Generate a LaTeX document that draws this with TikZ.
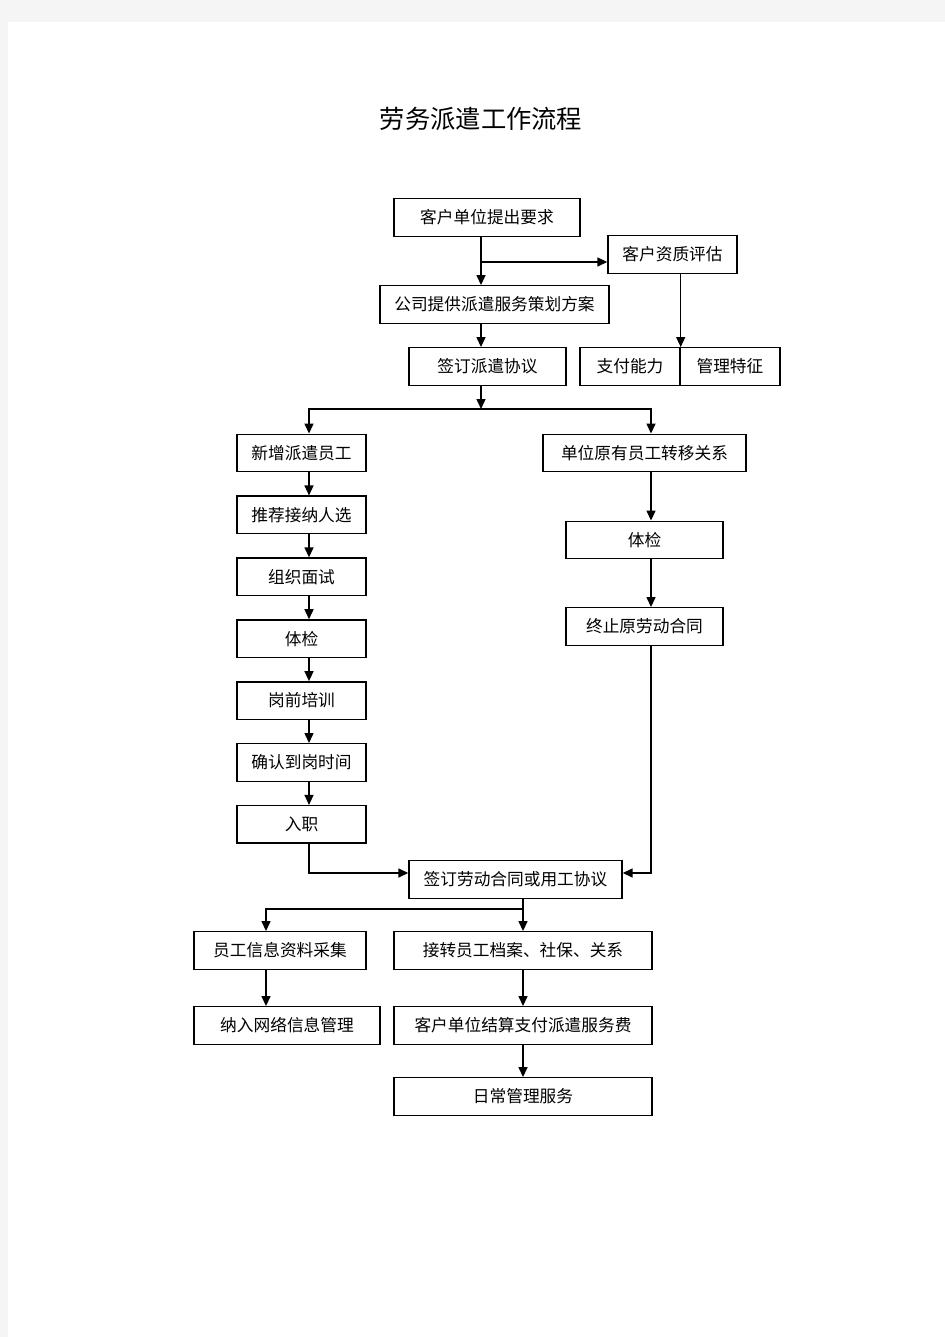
\documentclass[tikz,border=0pt]{standalone}
\usepackage{fontspec}
\newfontfamily\cjk{Noto Sans CJK SC}
\usetikzlibrary{positioning,arrows.meta}

\begin{document}
\begin{tikzpicture}[x=0.02cm, y=-0.02cm, node distance=0.46cm,
    box/.style={draw, line width=0.8pt, minimum height=0.75cm, inner sep=0pt,
                font=\cjk\fontsize{9.5}{11}\selectfont},
    arr/.style={line width=0.8pt, -{Triangle[width=0.18cm,length=0.2cm]}}]
  % page
  \fill[black!4] (0,0) rectangle (945,1337);
  \fill[white] (8,22) rectangle (945,1337);
  \useasboundingbox (0,0) rectangle (945,1337);

  \node (title) at (481,119) {\cjk\fontsize{14.4}{16}\selectfont 劳务派遣工作流程};

  % columns of the connectors
  \coordinate (spine) at (481,409);
  \coordinate (fork)  at (481,262);
  \coordinate (lcol)  at (309,0);
  \coordinate (rcol)  at (651,0);
  \coordinate (join)  at (0,873);
  \coordinate (split) at (523,909);
  \coordinate (icol)  at (266,0);

  % top
  \node (req)   [box, minimum width=3.72cm] at (487,217.5) {客户单位提出要求};
  \node (eval)  [box, minimum width=2.58cm] at (672.5,254.5) {客户资质评估};
  \node (plan)  [box, minimum width=4.58cm] at (494.5,304.5) {公司提供派遣服务策划方案};
  \node (agree) [box, minimum width=3.14cm] at (487.5,366.5) {签订派遣协议};
  \node (pay)   [box, minimum width=2cm]    at (630,366.5) {支付能力};
  \node (mgmt)  [box, minimum width=2cm, right=-0.8pt of pay] {管理特征};

  % left branch
  \node (new)       [box, minimum width=2.58cm] at (301.5,453) {新增派遣员工};
  \node (recommend) [box, minimum width=2.58cm, below=of new]       {推荐接纳人选};
  \node (interview) [box, minimum width=2.58cm, below=of recommend] {组织面试};
  \node (examl)     [box, minimum width=2.58cm, below=of interview] {体检};
  \node (train)     [box, minimum width=2.58cm, below=of examl]     {岗前培训};
  \node (confirm)   [box, minimum width=2.58cm, below=of train]     {确认到岗时间};
  \node (onboard)   [box, minimum width=2.58cm, below=of confirm]   {入职};

  % right branch
  \node (transfer)  [box, minimum width=4.06cm] at (644.5,453) {单位原有员工转移关系};
  \node (examr)     [box, minimum width=3.14cm] at (644.5,540) {体检};
  \node (terminate) [box, minimum width=3.14cm] at (644.5,626.5) {终止原劳动合同};

  % bottom
  \node (contract) [box, minimum width=4.26cm] at (515.5,879.5) {签订劳动合同或用工协议};
  \node (info)     [box, minimum width=3.44cm] at (280,950.5) {员工信息资料采集};
  \node (archive)  [box, minimum width=5.16cm] at (523,950.5) {接转员工档案、社保、关系};
  \node (network)  [box, minimum width=3.72cm] at (287,1025.5) {纳入网络信息管理};
  \node (fee)      [box, minimum width=5.16cm] at (523,1025.5) {客户单位结算支付派遣服务费};
  \node (daily)    [box, minimum width=5.16cm] at (523,1096.5) {日常管理服务};

  % connectors
  \draw[arr] (req.south -| spine) -- (plan.north -| spine);
  \draw[arr] (fork) -- (fork -| eval.west);
  \draw[arr] (eval.south -| pay.north east) -- (pay.north east);
  \draw[arr] (plan.south -| spine) -- (agree.north -| spine);
  \draw[arr] (agree.south -| spine) -- (spine);
  \draw[arr] (spine) -| (new.north -| lcol);
  \draw[arr] (spine) -| (transfer.north -| rcol);

  \draw[arr] (new.south -| lcol) -- (recommend.north -| lcol);
  \draw[arr] (recommend.south -| lcol) -- (interview.north -| lcol);
  \draw[arr] (interview.south -| lcol) -- (examl.north -| lcol);
  \draw[arr] (examl.south -| lcol) -- (train.north -| lcol);
  \draw[arr] (train.south -| lcol) -- (confirm.north -| lcol);
  \draw[arr] (confirm.south -| lcol) -- (onboard.north -| lcol);

  \draw[arr] (transfer.south -| rcol) -- (examr.north -| rcol);
  \draw[arr] (examr.south -| rcol) -- (terminate.north -| rcol);

  \draw[arr] (onboard.south -| lcol) |- (contract.west |- join);
  \draw[arr] (terminate.south -| rcol) |- (contract.east |- join);

  \draw[arr] (contract.south -| archive.north) -- (archive.north);
  \draw[arr] (split) -| (info.north -| icol);
  \draw[arr] (info.south -| icol) -- (network.north -| icol);
  \draw[arr] (archive.south) -- (fee.north);
  \draw[arr] (fee.south) -- (daily.north);
\end{tikzpicture}
\end{document}
